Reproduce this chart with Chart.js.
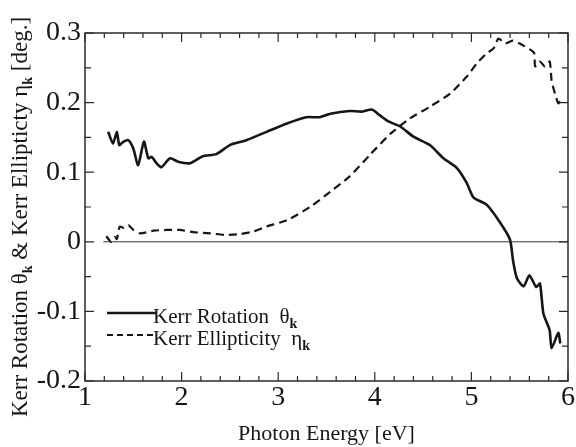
<!DOCTYPE html>
<html>
<head>
<meta charset="utf-8">
<script src="https://cdn.jsdelivr.net/npm/chart.js@4"></script>
<style>
  html, body { margin: 0; padding: 0; background: #fff; }
  canvas { display: block; }
</style>
</head>
<body>
<canvas id="kerrChart" width="576" height="447"></canvas>
<script>
// photon energy [eV] / Kerr rotation [deg.]
const rotEnergy = [1.24, 1.29, 1.33, 1.355, 1.40, 1.45, 1.50, 1.55, 1.61, 1.655, 1.69, 1.74, 1.79, 1.88, 1.965,
  2.09, 2.22, 2.36, 2.50, 2.67, 2.88, 3.09, 3.29, 3.43, 3.54, 3.74, 3.86, 3.97, 4.05, 4.14, 4.26, 4.40,
  4.57, 4.71, 4.85, 4.95, 5.02, 5.16, 5.30, 5.40, 5.43, 5.47, 5.54, 5.60, 5.67, 5.71, 5.745, 5.81, 5.83, 5.90, 5.92];
const rotValues = [0.158, 0.141, 0.158, 0.139, 0.144, 0.146, 0.134, 0.110, 0.144, 0.120, 0.122, 0.113, 0.107, 0.120, 0.115,
  0.113, 0.123, 0.126, 0.139, 0.146, 0.158, 0.170, 0.179, 0.179, 0.184, 0.188, 0.187, 0.190, 0.182, 0.173, 0.166, 0.151,
  0.139, 0.120, 0.106, 0.085, 0.064, 0.053, 0.027, 0.003, -0.026, -0.052, -0.064, -0.048, -0.065, -0.060, -0.103, -0.127, -0.153, -0.131, -0.146];

// photon energy [eV] / Kerr ellipticity [deg.]
const ellEnergy = [1.22, 1.27, 1.31, 1.33, 1.36, 1.40, 1.45, 1.50, 1.57, 1.71, 1.85, 1.98, 2.12, 2.30, 2.45, 2.60, 2.75,
  2.88, 3.09, 3.33, 3.54, 3.74, 3.95, 4.16, 4.36, 4.57, 4.78, 4.95, 5.055, 5.16, 5.23, 5.28, 5.35, 5.43, 5.50,
  5.61, 5.65, 5.66, 5.71, 5.76, 5.81, 5.83, 5.865, 5.90, 5.93];
const ellValues = [0.008, 0.0, 0.007, 0.004, 0.022, 0.020, 0.024, 0.017, 0.012, 0.016, 0.017, 0.017, 0.014, 0.012, 0.010, 0.011, 0.015,
  0.022, 0.031, 0.050, 0.072, 0.094, 0.125, 0.155, 0.177, 0.194, 0.213, 0.237, 0.256, 0.271, 0.278, 0.292, 0.285, 0.289, 0.285,
  0.276, 0.271, 0.252, 0.259, 0.252, 0.259, 0.232, 0.213, 0.199, 0.204];

// zero reference line
const zeroEnergy = [1.19, 6];
const zeroValues = [0, 0];

const xTicks = [1, 2, 3, 4, 5, 6];
const yTicks = [-0.2, -0.1, 0, 0.1, 0.2, 0.3];

const serif = "'Liberation Serif', 'Times New Roman', serif";
const ink = '#161616';

const toPoints = (xs, ys) => xs.map((x, i) => ({ x: x, y: ys[i] }));

// text with a bold subscript k after a greek letter
function drawParts(ctx, parts, x, y) {
  let cx = x;
  parts.forEach(p => {
    ctx.font = p.sub ? 'bold 14px ' + serif : p.size + 'px ' + serif;
    ctx.fillText(p.t, cx, y + (p.sub ? 5 : 0));
    cx += ctx.measureText(p.t).width;
  });
}
function partsWidth(ctx, parts) {
  let w = 0;
  parts.forEach(p => {
    ctx.font = p.sub ? 'bold 14px ' + serif : p.size + 'px ' + serif;
    w += ctx.measureText(p.t).width;
  });
  return w;
}

const framePlugin = {
  id: 'frame',
  afterDraw(chart) {
    const { ctx, chartArea: a, scales: { x, y } } = chart;
    ctx.save();
    ctx.strokeStyle = '#2a2a2a';
    ctx.lineWidth = 1.5;
    ctx.strokeRect(a.left, a.top, a.right - a.left, a.bottom - a.top);
    ctx.lineWidth = 1.2;
    ctx.beginPath();
    for (let i = 0; i <= 25; i++) {
      const px = x.getPixelForValue(1 + i * 0.2);
      const len = i % 5 === 0 ? 9 : 5;
      ctx.moveTo(px, a.bottom); ctx.lineTo(px, a.bottom - len);
      ctx.moveTo(px, a.top); ctx.lineTo(px, a.top + len);
    }
    for (let i = 0; i <= 10; i++) {
      const py = y.getPixelForValue(-0.2 + i * 0.05);
      const len = i % 2 === 0 ? 9 : 6;
      ctx.moveTo(a.left, py); ctx.lineTo(a.left + len, py);
      ctx.moveTo(a.right, py); ctx.lineTo(a.right - len, py);
    }
    ctx.stroke();

    // y axis title
    ctx.fillStyle = ink;
    ctx.textBaseline = 'alphabetic';
    const title = [
      { t: 'Kerr Rotation ', size: 23 }, { t: 'θ', size: 23 }, { t: 'k', sub: true },
      { t: ' & Kerr Ellipticty ', size: 23 }, { t: 'η', size: 23 }, { t: 'k', sub: true },
      { t: ' [deg.]', size: 23 }
    ];
    const tw = partsWidth(ctx, title);
    ctx.save();
    ctx.translate(27, (a.top + a.bottom) / 2 + 10);
    ctx.rotate(-Math.PI / 2);
    drawParts(ctx, title, -tw / 2, 0);
    ctx.restore();

    // legend
    const lx = a.left + 22;
    const rows = [
      { y: 313, dash: [], w: 2.5, parts: [{ t: 'Kerr Rotation  ', size: 21 }, { t: 'θ', size: 21 }, { t: 'k', sub: true }] },
      { y: 335, dash: [6, 4], w: 2, parts: [{ t: 'Kerr Ellipticity  ', size: 21 }, { t: 'η', size: 21 }, { t: 'k', sub: true }] }
    ];
    rows.forEach(r => {
      ctx.beginPath();
      ctx.setLineDash(r.dash);
      ctx.lineWidth = r.w;
      ctx.strokeStyle = ink;
      ctx.moveTo(lx, r.y); ctx.lineTo(lx + 49, r.y);
      ctx.stroke();
      ctx.setLineDash([]);
      drawParts(ctx, r.parts, lx + 46, r.y + 10);
    });
    ctx.restore();
  }
};

new Chart(document.getElementById('kerrChart'), {
  type: 'scatter',
  data: {
    datasets: [
      {
        label: 'zero',
        data: toPoints(zeroEnergy, zeroValues),
        showLine: true,
        borderColor: '#333',
        borderWidth: 1,
        pointRadius: 0
      },
      {
        label: 'Kerr Rotation',
        data: toPoints(rotEnergy, rotValues),
        showLine: true,
        borderColor: ink,
        borderWidth: 2.6,
        tension: 0.2,
        pointRadius: 0
      },
      {
        label: 'Kerr Ellipticity',
        data: toPoints(ellEnergy, ellValues),
        showLine: true,
        borderColor: ink,
        borderWidth: 2.2,
        borderDash: [8, 5],
        tension: 0.2,
        pointRadius: 0
      }
    ]
  },
  options: {
    responsive: false,
    animation: false,
    layout: { padding: { left: 0, right: 8, top: 33, bottom: 0 } },
    plugins: {
      legend: { display: false },
      tooltip: { enabled: false }
    },
    scales: {
      x: {
        type: 'linear',
        min: 1, max: 6,
        afterFit: s => { s.height = 66; },
        afterBuildTicks: s => { s.ticks = xTicks.map(v => ({ value: v })); },
        grid: { display: false, drawTicks: false },
        border: { display: false },
        ticks: { padding: 0, color: ink, font: { family: serif, size: 28 }, maxRotation: 0 },
        title: {
          display: true,
          text: 'Photon Energy [eV]',
          color: ink,
          font: { family: serif, size: 22 },
          padding: { top: 0, bottom: 0 }
        }
      },
      y: {
        type: 'linear',
        min: -0.2, max: 0.3,
        afterFit: s => { s.width = 85; },
        afterBuildTicks: s => { s.ticks = yTicks.map(v => ({ value: v })); },
        grid: { display: false, drawTicks: false },
        border: { display: false },
        ticks: {
          padding: 4,
          color: ink,
          font: { family: serif, size: 28 },
          callback: v => String(Math.round(v * 10) / 10)
        }
      }
    }
  },
  plugins: [framePlugin]
});
</script>
</body>
</html>
